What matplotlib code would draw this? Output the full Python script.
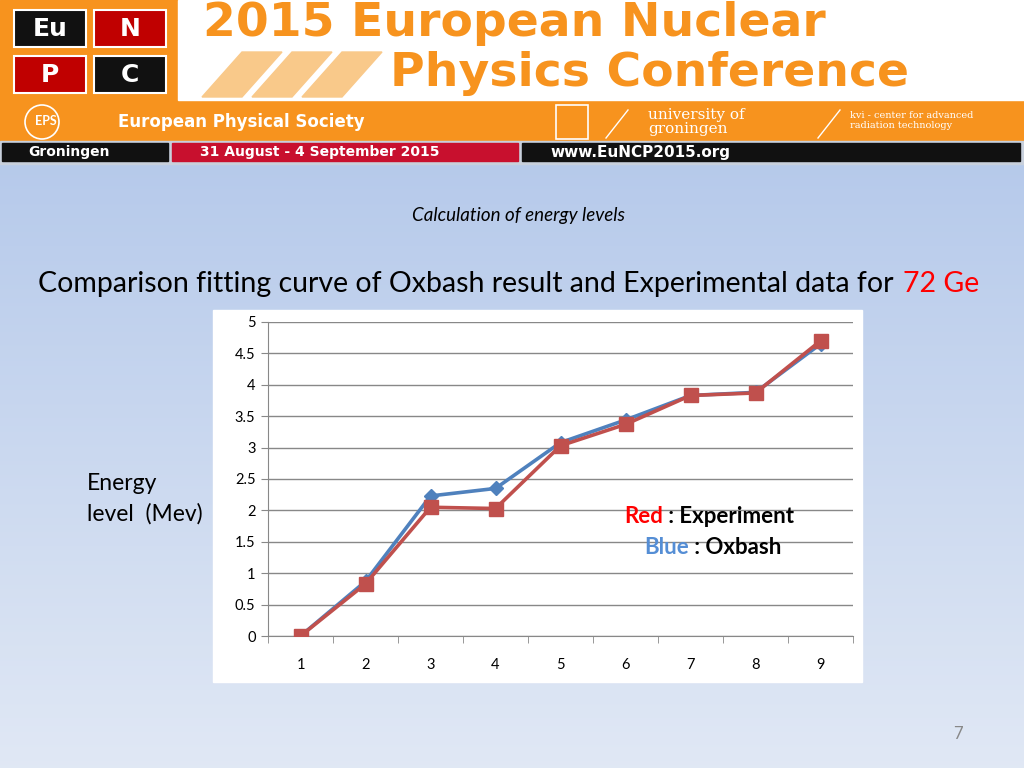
import numpy as np
import matplotlib
matplotlib.use("Agg")
import matplotlib.pyplot as plt
from matplotlib.patches import Rectangle, Polygon, Circle

# level index and energies (MeV)
levels = [1, 2, 3, 4, 5, 6, 7, 8, 9]
oxbash = [0.0, 0.87, 2.23, 2.35, 3.08, 3.44, 3.83, 3.88, 4.65]
experiment = [0.0, 0.83, 2.05, 2.03, 3.03, 3.37, 3.83, 3.87, 4.70]
yticks = [0, 0.5, 1, 1.5, 2, 2.5, 3, 3.5, 4, 4.5, 5]
ytick_labels = ["0", "0.5", "1", "1.5", "2", "2.5", "3", "3.5", "4", "4.5", "5"]

plt.rcParams['font.family'] = ['Lato', 'DejaVu Sans']

ORANGE = "#f7931e"
BLUE = "#4f81bd"
RED = "#c0504d"

fig = plt.figure(figsize=(10.24, 7.68), dpi=100)

# background axes in pixel coordinates
bg = fig.add_axes([0, 0, 1, 1])
bg.set_xlim(0, 1024)
bg.set_ylim(768, 0)
bg.axis("off")

grad = np.linspace(0, 1, 256).reshape(-1, 1)
top = np.array([0.67, 0.76, 0.91])
bot = np.array([0.88, 0.91, 0.96])
img = top + (bot - top) * grad[:, :, None]
bg.imshow(img, extent=[0, 1024, 768, 0], aspect="auto", zorder=0)

# ---- banner ----
bg.add_patch(Rectangle((0, 0), 1024, 143, color=ORANGE, zorder=1))
bg.add_patch(Rectangle((178, 0), 846, 100, color="white", zorder=2))
boxes = [(14, 10, "#111111", "Eu"), (94, 10, "#c00000", "N"),
         (14, 56, "#c00000", "P"), (94, 56, "#111111", "C")]
for bx, by, col, lab in boxes:
    bg.add_patch(Rectangle((bx, by), 72, 37, facecolor=col, edgecolor="white", lw=1.5, zorder=3))
    bg.text(bx + 36, by + 19, lab, color="white", fontsize=18, fontweight="bold",
            family="DejaVu Sans", ha="center", va="center", zorder=4)
for sx in [232, 282, 332]:
    bg.add_patch(Polygon([[sx - 30, 97], [sx + 10, 97], [sx + 50, 52], [sx + 10, 52]],
                         closed=True, color="#f9c98a", zorder=3))
bg.text(203, 24, "2015 European Nuclear", color=ORANGE, fontsize=34, fontweight="bold",
        family="DejaVu Sans", ha="left", va="center", zorder=4)
bg.text(390, 74, "Physics Conference", color=ORANGE, fontsize=34, fontweight="bold",
        family="DejaVu Sans", ha="left", va="center", zorder=4)

bg.add_patch(Circle((42, 122), 17, fill=False, edgecolor="white", lw=1.2, zorder=3))
bg.text(46, 121, "EPS", color="white", fontsize=9, fontweight="bold", ha="center", va="center", zorder=4)
bg.text(118, 122, "European Physical Society", color="white", fontsize=12, fontweight="bold",
        family="DejaVu Sans", ha="left", va="center", zorder=4)
bg.add_patch(Rectangle((556, 105), 32, 34, fill=False, edgecolor="white", lw=1.2, zorder=3))
bg.plot([606, 628], [138, 110], color="white", lw=1, zorder=3)
bg.text(648, 115, "university of", color="white", fontsize=11, family="DejaVu Serif",
        ha="left", va="center", zorder=4)
bg.text(648, 129, "groningen", color="white", fontsize=11, family="DejaVu Serif",
        ha="left", va="center", zorder=4)
bg.plot([818, 840], [138, 110], color="white", lw=1, zorder=3)
bg.text(850, 115, "kvi - center for advanced", color="white", fontsize=7,
        family="DejaVu Serif", ha="left", va="center", zorder=4)
bg.text(850, 125, "radiation technology", color="white", fontsize=7,
        family="DejaVu Serif", ha="left", va="center", zorder=4)

bg.add_patch(Rectangle((0, 141), 1024, 23, color="#c8d0dc", zorder=1))
bg.add_patch(Rectangle((2, 143), 166, 18, color="#111111", zorder=2))
bg.add_patch(Rectangle((172, 143), 346, 18, color="#c8102e", zorder=2))
bg.add_patch(Rectangle((522, 143), 498, 18, color="#111111", zorder=2))
bg.text(28, 152, "Groningen", color="white", fontsize=10, fontweight="bold",
        family="DejaVu Sans", ha="left", va="center", zorder=4)
bg.text(200, 152, "31 August - 4 September 2015", color="white", fontsize=10, fontweight="bold",
        family="DejaVu Sans", ha="left", va="center", zorder=4)
bg.text(550, 152, "www.EuNCP2015.org", color="white", fontsize=11, fontweight="bold",
        family="DejaVu Sans", ha="left", va="center", zorder=4)

# ---- slide texts ----
bg.text(518, 216, "Calculation of energy levels", fontsize=13.5, style="italic",
        ha="center", va="center", zorder=4)
main = bg.text(38, 284, "Comparison fitting curve of Oxbash result and Experimental data for ",
               fontsize=20.5, ha="left", va="center", zorder=4)
fig.canvas.draw()
ext = main.get_window_extent()
bg.text(ext.x1 + 2, 284, "72 Ge", fontsize=20.5, color="#ff0000", ha="left", va="center", zorder=4)
bg.text(87, 483, "Energy", fontsize=16.5, ha="left", va="center", zorder=4)
bg.text(87, 514, "level  (Mev)", fontsize=16.5, ha="left", va="center", zorder=4)
bg.text(958, 734, "7", fontsize=12, color="#888888", ha="center", va="center", zorder=4)

# white chart box
bg.add_patch(Rectangle((213, 310), 649, 372, color="white", zorder=1))

# ---- chart ----
ax = fig.add_axes([268 / 1024, 1 - 636 / 768, (853 - 268) / 1024, (636 - 322) / 768])
ax.set_facecolor("none")
ax.plot(levels, oxbash, color=BLUE, lw=2.6, marker="D", markersize=7, zorder=3)
ax.plot(levels, experiment, color=RED, lw=2.6, marker="s", markersize=10, zorder=4)

ax.set_xlim(0.5, 9.5)
ax.set_ylim(0, 5)
ax.set_yticks(yticks)
ax.set_yticklabels(ytick_labels, fontsize=10.5)
ax.set_xticks(levels)
ax.set_xticklabels([str(v) for v in levels], fontsize=10.5)
ax.set_xticks(np.arange(0.5, 10, 1), minor=True)
ax.tick_params(axis="x", which="major", length=0, pad=16)
ax.tick_params(axis="x", which="minor", length=5, color="#888888")
ax.tick_params(axis="y", length=5, color="#888888", pad=4)
ax.grid(axis="y", color="#888888", lw=1)
ax.set_axisbelow(True)
for side in ["top", "right"]:
    ax.spines[side].set_visible(False)
for side in ["left", "bottom"]:
    ax.spines[side].set_color("#888888")

# colour key written inside the chart
ax.text(0.675, 0.38, "Red", color="#ff0000", fontsize=16, fontweight="bold",
        transform=ax.transAxes, ha="right", va="center")
ax.text(0.675, 0.38, " : Experiment", color="black", fontsize=16, fontweight="bold",
        transform=ax.transAxes, ha="left", va="center")
ax.text(0.72, 0.282, "Blue", color="#558ed5", fontsize=16, fontweight="bold",
        transform=ax.transAxes, ha="right", va="center")
ax.text(0.72, 0.282, " : Oxbash", color="black", fontsize=16, fontweight="bold",
        transform=ax.transAxes, ha="left", va="center")

fig.savefig("out.png", dpi=100)
